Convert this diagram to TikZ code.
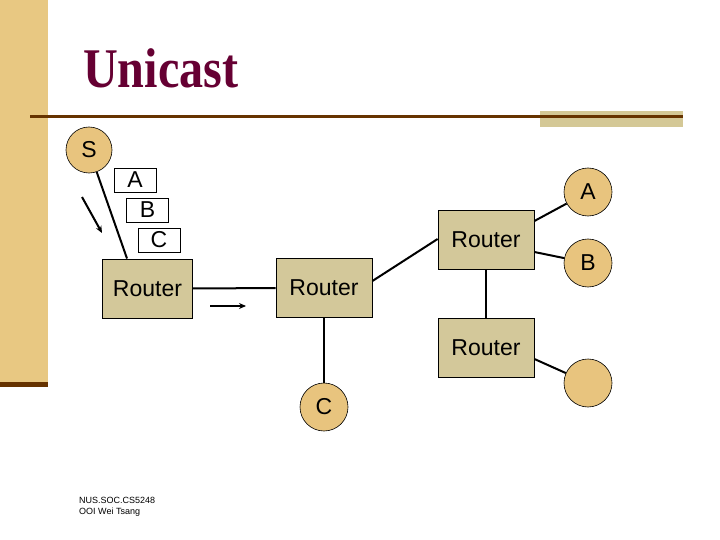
\documentclass[tikz,border=0pt]{standalone}
\usepackage{fontspec}
\setmainfont{Liberation Sans}
\newfontfamily\titlefont{Liberation Serif}
\usetikzlibrary{arrows.meta}
\definecolor{bartan}{HTML}{E8C882}
\definecolor{barbrown}{HTML}{663300}
\definecolor{pale}{HTML}{D4C896}
\definecolor{routerfill}{HTML}{D3C89A}
\definecolor{hostfill}{HTML}{E8C47E}
\definecolor{titlecol}{HTML}{660033}
\tikzset{
  router/.style={draw=black, fill=routerfill, line width=0.8pt, minimum width=96pt, minimum height=59pt, inner sep=0pt, font=\fontsize{23}{26}\selectfont},
  host/.style={circle, draw=black, fill=hostfill, line width=0.6pt, minimum size=48pt, inner sep=0pt, font=\fontsize{23}{26}\selectfont},
  pkt/.style={draw=black, fill=white, line width=0.6pt, minimum width=42pt, minimum height=24pt, inner sep=0pt, font=\fontsize{23}{26}\selectfont},
  link/.style={line width=2pt},
  flow/.style={line width=2pt, -{Stealth[length=7pt,width=6pt]}}
}
\begin{document}
\begin{tikzpicture}[x=1pt,y=-1pt]
\useasboundingbox (0,0) rectangle (720,540);
\fill[white] (0,0) rectangle (720,540);
% left bar
\fill[bartan] (0,0) rectangle (48,382);
\fill[barbrown] (0,382) rectangle (48,387);
% title rule
\fill[pale] (540,111) rectangle (683,127);
\draw[barbrown, line width=3pt] (30,117) -- (683,117);
% title
\node[anchor=base west, inner sep=0pt, text=titlecol] (title) at (83,88)
  {\scalebox{0.86}[1]{\titlefont\bfseries\fontsize{56}{60}\selectfont Unicast}};
% routers
\node[router, minimum width=90pt] (r1) at (147.5,288.5) {Router};
\node[router] (r2) at (324,288) {Router};
\node[router] (r3) at (486,240) {Router};
\node[router] (r4) at (486,347.5) {Router};
% hosts
\node[host, minimum size=46pt] (s) at (89,150) {S};
\node[host] (ha) at (588,192) {A};
\node[host] (hb) at (588,263) {B};
\node[host] (hx) at (588,383) {};
\node[host] (hc) at (324,407) {C};
% packets
\node[pkt] (pa) at (135,180) {A};
\node[pkt] (pb) at (147.5,210) {B};
\node[pkt] (pc) at (159,240) {C};
% links
\coordinate (r1top) at (127,258.5);
\draw[link] (s) -- (r1top);
\draw[link] (r1) -- (r2);
\draw[link] (r2.east |- 0,281) -- (r3.west |- 0,239);
\draw[link] (r3.east |- 0,221) -- (ha);
\draw[link] (r3.east |- 0,252) -- (hb);
\draw[link] (r3) -- (r4);
\draw[link] (r4.east |- 0,359) -- (hx);
\draw[link] (r2) -- (hc);
% flow arrows
\coordinate (f1s) at (82,197);
\coordinate (f1e) at (102,233);
\draw[flow] (f1s) -- (f1e);
\coordinate (f2s) at (210,306);
\coordinate (f2e) at (246,306);
\draw[flow] (f2s) -- (f2e);
% footer
\node[anchor=north west, inner sep=0pt, align=left, font=\fontsize{9}{11.5}\selectfont] (foot) at (79,497)
  {NUS.SOC.CS5248\\OOI Wei Tsang};
\end{tikzpicture}
\end{document}
